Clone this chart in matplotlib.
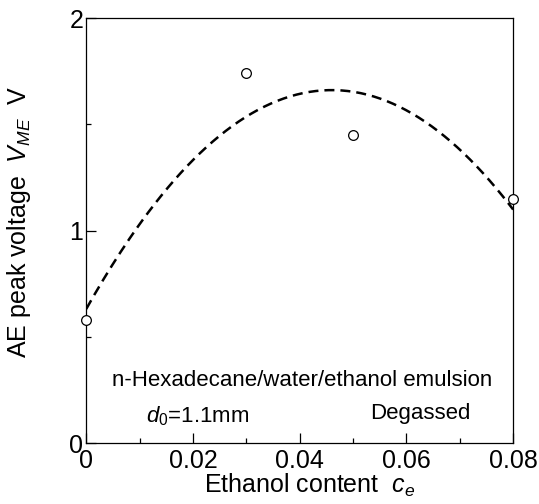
#!/usr/bin/env python3
"""AE peak voltage vs ethanol content (n-hexadecane/water/ethanol emulsion)."""

import numpy as np
import matplotlib
matplotlib.use("Agg")
import matplotlib.pyplot as plt
from matplotlib.ticker import MultipleLocator

plt.rcParams["font.family"] = ["Liberation Sans", "DejaVu Sans"]
plt.rcParams["mathtext.fontset"] = "custom"
plt.rcParams["mathtext.rm"] = "Liberation Sans"
plt.rcParams["mathtext.it"] = "Liberation Sans:italic"

# measured points
ethanol_content = [0.0, 0.03, 0.05, 0.08]
peak_voltage = [0.58, 1.74, 1.45, 1.15]

# dashed curve = 2nd order least-squares fit of the points
fit = np.polyfit(ethanol_content, peak_voltage, 2)
x_fit = np.linspace(0.0, 0.08, 200)
y_fit = np.polyval(fit, x_fit)

fig = plt.figure(figsize=(5.39, 5.04), dpi=100)
ax = fig.add_axes([0.16, 0.121, 0.792, 0.843])

ax.plot(x_fit, y_fit, color="black", linestyle=(0, (4.0, 2.4)), linewidth=1.8)
ax.plot(ethanol_content, peak_voltage, linestyle="none", marker="o", markersize=7,
        markerfacecolor="white", markeredgecolor="black", markeredgewidth=0.9,
        clip_on=False, zorder=5)

ax.set_xlim(0, 0.08)
ax.set_ylim(0, 2)
ax.xaxis.set_minor_locator(MultipleLocator(0.01))
ax.yaxis.set_minor_locator(MultipleLocator(0.5))
ax.set_xticks([0, 0.02, 0.04, 0.06, 0.08])
ax.set_xticklabels(["0", "0.02", "0.04", "0.06", "0.08"])
ax.set_yticks([0, 1, 2])
ax.set_yticklabels(["0", "1", "2"])

ax.tick_params(which="both", direction="in", top=False, right=False,
               labelsize=18, width=0.9)
ax.tick_params(axis="x", pad=4)
ax.tick_params(axis="y", pad=2)
ax.tick_params(which="major", length=7)
ax.tick_params(which="minor", length=3.5)
for spine in ax.spines.values():
    spine.set_linewidth(0.9)

ax.set_xlabel(r"Ethanol content  $c_e$", fontsize=18)
ax.set_ylabel(r"AE peak voltage  $V_{ME}$  V", fontsize=18)
ax.xaxis.set_label_coords(0.524, -0.068)
ax.xaxis.label.set_va("top")
ax.yaxis.set_label_coords(-0.124, 0.52)

ax.text(0.0405, 0.296, "n-Hexadecane/water/ethanol emulsion", fontsize=16,
        ha="center", va="center")
ax.text(0.0208, 0.125, r"$d_\mathit{0}$=1.1mm", fontsize=16, ha="center", va="center")
ax.text(0.0626, 0.14, "Degassed", fontsize=16, ha="center", va="center")

fig.savefig("out.png", dpi=100)
plt.close(fig)
